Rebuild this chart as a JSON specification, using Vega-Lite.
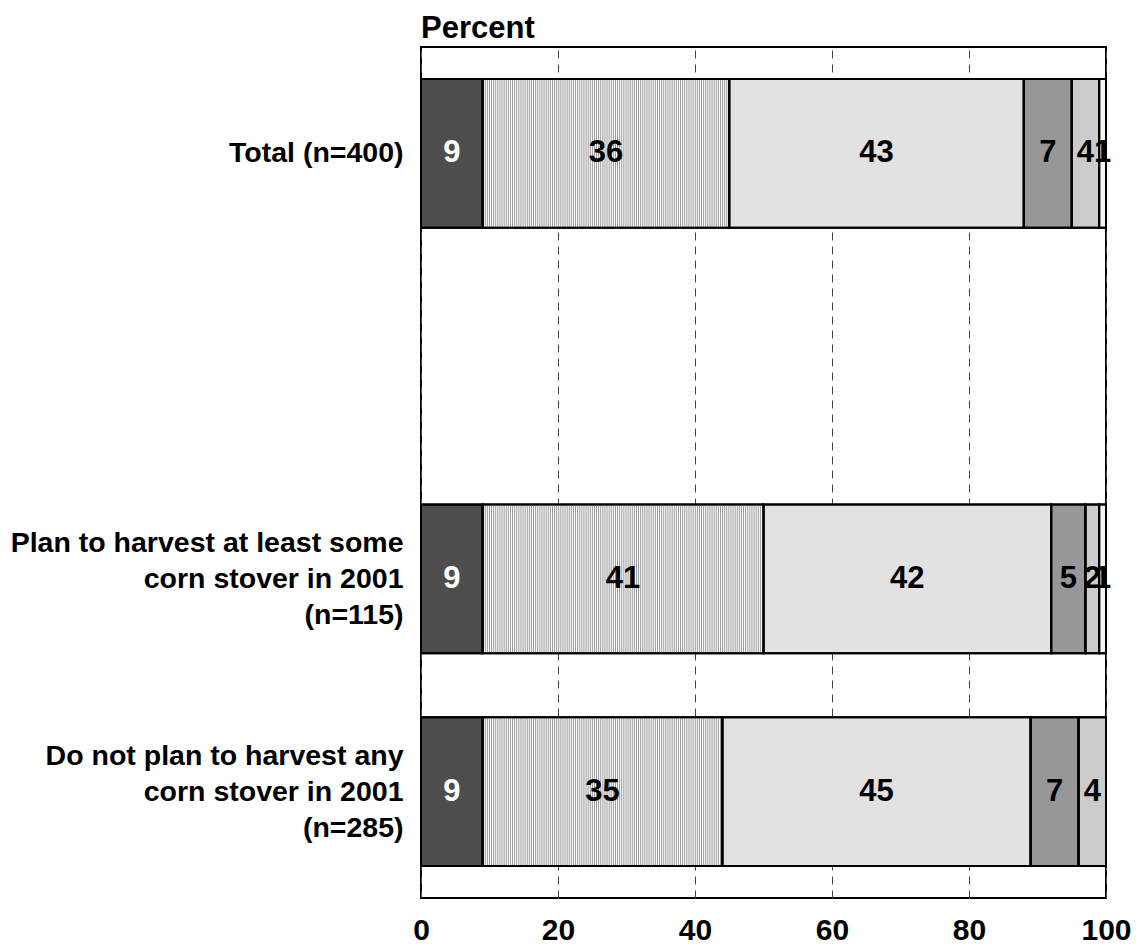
{
  "$schema": "https://vega.github.io/schema/vega-lite/v6.json",
  "width": 685,
  "height": 851,
  "autosize": {"type": "none"},
  "padding": {"left": 421, "top": 47, "right": 30, "bottom": 50},
  "background": "white",
  "title": {"text": "Percent", "anchor": "start", "frame": "group", "fontSize": 31, "fontWeight": "bold", "font": "Liberation Sans", "color": "black", "offset": 2},
  "config": {
    "view": {"stroke": "black", "strokeWidth": 2},
    "font": "Liberation Sans"
  },
  "data": {
    "values": [
      {"group": "Total (n=400)", "seg": "A", "value": 9},
      {"group": "Total (n=400)", "seg": "B", "value": 36},
      {"group": "Total (n=400)", "seg": "C", "value": 43},
      {"group": "Total (n=400)", "seg": "D", "value": 7},
      {"group": "Total (n=400)", "seg": "E", "value": 4},
      {"group": "Total (n=400)", "seg": "F", "value": 1},
      {"group": "Plan to harvest at least some|corn stover in 2001|(n=115)", "seg": "A", "value": 9},
      {"group": "Plan to harvest at least some|corn stover in 2001|(n=115)", "seg": "B", "value": 41},
      {"group": "Plan to harvest at least some|corn stover in 2001|(n=115)", "seg": "C", "value": 42},
      {"group": "Plan to harvest at least some|corn stover in 2001|(n=115)", "seg": "D", "value": 5},
      {"group": "Plan to harvest at least some|corn stover in 2001|(n=115)", "seg": "E", "value": 2},
      {"group": "Plan to harvest at least some|corn stover in 2001|(n=115)", "seg": "F", "value": 1},
      {"group": "Do not plan to harvest any|corn stover in 2001|(n=285)", "seg": "A", "value": 9},
      {"group": "Do not plan to harvest any|corn stover in 2001|(n=285)", "seg": "B", "value": 35},
      {"group": "Do not plan to harvest any|corn stover in 2001|(n=285)", "seg": "C", "value": 45},
      {"group": "Do not plan to harvest any|corn stover in 2001|(n=285)", "seg": "D", "value": 7},
      {"group": "Do not plan to harvest any|corn stover in 2001|(n=285)", "seg": "E", "value": 4}
    ]
  },
  "transform": [
    {"stack": "value", "groupby": ["group"], "sort": [{"field": "seg", "order": "ascending"}], "as": ["x0", "x1"]}
  ],
  "encoding": {
    "y": {
      "field": "group",
      "type": "nominal",
      "scale": {
        "domain": ["Total (n=400)", " ", "Plan to harvest at least some|corn stover in 2001|(n=115)", "Do not plan to harvest any|corn stover in 2001|(n=285)"],
        "paddingInner": 0.3,
        "paddingOuter": 0.15
      },
      "axis": {
        "title": null,
        "domain": false,
        "ticks": false,
        "grid": false,
        "labelFontSize": 28.5,
        "labelFontWeight": "bold",
        "labelColor": "black",
        "labelPadding": 18,
        "labelLimit": 0,
        "labelLineHeight": 36,
        "labelOffset": -36,
        "labelExpr": "indexof(datum.value, '|') < 0 ? ['', datum.value] : split(datum.value, '|')"
      }
    }
  },
  "layer": [
    {
      "mark": {"type": "bar", "stroke": "black", "strokeWidth": 2},
      "encoding": {
        "x": {
          "field": "x0",
          "type": "quantitative",
          "scale": {"domain": [0, 100], "nice": false},
          "axis": {
            "title": null,
            "values": [0, 20, 40, 60, 80, 100],
            "grid": true,
            "gridDash": [8, 6],
            "gridColor": "#444444",
            "gridWidth": 1,
            "domain": false,
            "ticks": false,
            "labelFontSize": 30,
            "labelFontWeight": "bold",
            "labelColor": "black",
            "labelPadding": 17,
            "labelFlush": false
          }
        },
        "x2": {"field": "x1"},
        "fill": {
          "field": "seg",
          "type": "nominal",
          "scale": {"domain": ["A", "B", "C", "D", "E", "F"], "range": ["#4d4d4d", "#ffffff", "#e2e2e2", "#979797", "#cbcbcb", "#f4f4f4"]},
          "legend": null
        }
      }
    },
    {
      "transform": [{"filter": "datum.seg === 'B'"}],
      "mark": {"type": "rule", "stroke": "#999999", "strokeWidth": 148, "strokeDash": [1, 1.1], "strokeCap": "butt"},
      "encoding": {
        "x": {"field": "x0", "type": "quantitative"},
        "x2": {"field": "x1"}
      }
    },
    {
      "mark": {"type": "bar", "fill": null, "fillOpacity": 0, "stroke": "black", "strokeWidth": 2},
      "encoding": {
        "x": {"field": "x0", "type": "quantitative"},
        "x2": {"field": "x1"}
      }
    },
    {
      "mark": {"type": "text", "fontSize": 31, "fontWeight": "bold", "font": "Liberation Sans", "baseline": "middle", "align": "center"},
      "encoding": {
        "x": {"field": "value", "type": "quantitative", "stack": "zero", "bandPosition": 0.5},
        "order": {"field": "seg"},
        "text": {"field": "value", "type": "quantitative"},
        "color": {
          "condition": {"test": "datum.seg === 'A'", "value": "white"},
          "value": "black"
        }
      }
    }
  ]
}
